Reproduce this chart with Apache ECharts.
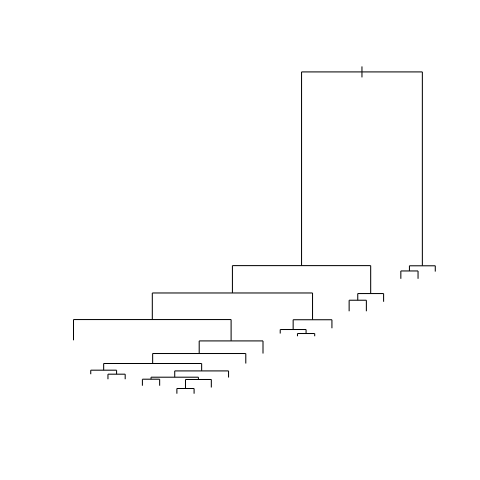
<!DOCTYPE html>
<html>
<head>
<meta charset="utf-8">
<script src="https://cdn.jsdelivr.net/npm/echarts@6/dist/echarts.min.js"></script>
<style>html,body{margin:0;padding:0;background:#fff;}#c{width:480px;height:480px;}</style>
</head>
<body>
<div id="c"></div>
<script>
// Leaves in plotting order (positions 1..22 on the x axis)
const leafOrder = [1,2,3,4,5,6,7,8,9,10,11,12,13,14,15,16,17,18,19,20,21,22];
// hclust-style merges: negative = leaf position, positive = earlier merge (1-based)
const mergeLeft  = [-7, 1, -5, 3, -3, 4, -2, 7, 8, 9, -14, -13, 12, -1, -17, 15, 14, -20, 18, 17, 20];
const mergeRight = [-8, -9, -6, 2, -4, -10, 5, 6, -11, -12, -15, 11, -16, 10, -18, -19, 13, -21, -22, 16, 19];
const mergeHeight = [1.61, 4.41, 4.50, 5.12, 6.06, 7.08, 7.30, 9.38, 12.48, 16.40, 18.70, 19.94, 22.98, 23.04, 29.04, 31.12, 31.30, 38.14, 39.75, 39.80, 100];
// height where each hanging leaf line ends
const leafEnd = [16.6, 6.06, 4.5, 4.5, 2.48, 2.48, 0, 0, 1.93, 5.03, 9.38, 12.48, 18.70, 17.86, 17.86, 20.34, 25.62, 25.62, 28.57, 35.71, 35.71, 37.95];

const nodeX = [];
function childX(c){ return c < 0 ? (-c) : nodeX[c-1]; }
function childY(c){ return c < 0 ? leafEnd[-c-1] : mergeHeight[c-1]; }
const segs = [];
for (let i = 0; i < mergeHeight.length; i++) {
  const l = mergeLeft[i], r = mergeRight[i], h = mergeHeight[i];
  const xl = childX(l), xr = childX(r);
  nodeX.push((xl + xr) / 2);
  segs.push([xl, h, xr, h]);
  segs.push([xl, h, xl, childY(l)]);
  segs.push([xr, h, xr, childY(r)]);
}
const rootI = mergeHeight.length - 1;
const rootH = mergeHeight[rootI];
segs.push([nodeX[rootI], rootH - 1.7, nodeX[rootI], rootH + 1.7]);

const yMin = Math.min(...leafEnd), yMax = rootH;
const yPad = (yMax - yMin) * 0.04;
const n = leafOrder.length;
const xPad = (n - 1) * 0.04;

const chart = echarts.init(document.getElementById('c'), null, {renderer: 'canvas'});
chart.setOption({
  animation: false,
  backgroundColor: '#ffffff',
  grid: {left: 59.04, right: 30.24, top: 59.04, bottom: 73.44, containLabel: false},
  xAxis: {type: 'value', min: 1 - xPad, max: n + xPad, show: false},
  yAxis: {type: 'value', min: yMin - yPad, max: yMax + yPad, show: false},
  series: [{
    type: 'custom',
    data: segs,
    encode: {x: [0, 2], y: [1, 3]},
    renderItem: function (params, api) {
      const p1 = api.coord([api.value(0), api.value(1)]);
      const p2 = api.coord([api.value(2), api.value(3)]);
      return {
        type: 'line',
        shape: {x1: p1[0], y1: p1[1], x2: p2[0], y2: p2[1]},
        style: {stroke: '#000000', lineWidth: 1}
      };
    }
  }]
});
</script>
</body>
</html>
